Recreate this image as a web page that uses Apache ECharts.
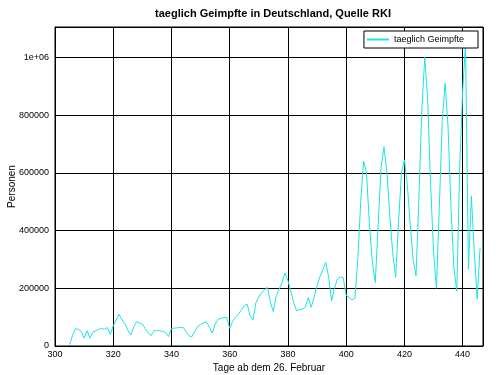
<!DOCTYPE html>
<html>
<head>
<meta charset="utf-8">
<script src="https://cdn.jsdelivr.net/npm/echarts@6/dist/echarts.min.js"></script>
<style>
html,body{margin:0;padding:0;background:#fff;}
#chart{width:500px;height:375px;}
</style>
</head>
<body>
<div id="chart"></div>
<script>
const titleText = "taeglich Geimpfte in Deutschland, Quelle RKI";
const seriesName = "taeglich Geimpfte";
const xAxisName = "Tage ab dem 26. Februar";
const yAxisName = "Personen";
const startDay = 305;
const vaccinated = [
  5000, 35000, 60000, 58000, 50000, 27000, 53000, 27000, 48000, 53000,
  58000, 60000, 58000, 64000, 40000, 70000, 90000, 110000, 90000, 78000,
  55000, 38000, 65000, 84000, 80000, 76000, 60000, 45000, 36000, 53000,
  53000, 53000, 50000, 47000, 33000, 60000, 62000, 63000, 64000, 65000,
  50000, 35000, 32000, 50000, 68000, 75000, 80000, 84000, 65000, 45000,
  75000, 92000, 96000, 98000, 99000, 61000, 85000, 100000, 110000, 125000,
  140000, 145000, 105000, 90000, 150000, 170000, 185000, 195000, 203000, 150000,
  119000, 175000, 197000, 220000, 253000, 226000, 190000, 150000, 122000, 126000,
  128000, 135000, 168000, 134000, 170000, 209000, 240000, 265000, 290000, 238000,
  157000, 200000, 232000, 240000, 236000, 175000, 168000, 160000, 165000, 300000,
  500000, 640000, 600000, 420000, 290000, 220000, 420000, 620000, 690000, 600000,
  450000, 320000, 238000, 430000, 600000, 645000, 560000, 420000, 300000, 243000,
  520000, 820000, 1000000, 850000, 560000, 330000, 200000, 480000, 780000, 910000,
  760000, 480000, 270000, 190000, 620000, 880000, 1045000, 266000, 520000, 330000,
  163000, 341000
];
const xTicks = [300, 320, 340, 360, 380, 400, 420, 440];
const yTicks = [0, 200000, 400000, 600000, 800000, 1000000];

const points = vaccinated.map((v, i) => [startDay + i, v]);
const font = "'Liberation Sans', Arial, sans-serif";

const chart = echarts.init(document.getElementById('chart'), null, {renderer: 'canvas'});
chart.setOption({
  animation: false,
  backgroundColor: '#fff',
  title: {
    text: titleText,
    left: 268, top: 3, textAlign: 'center',
    textStyle: {fontFamily: font, fontSize: 11, fontWeight: 'bold', color: '#000'}
  },
  legend: {
    data: [seriesName],
    right: 22, top: 31,
    padding: [4, 14, 4, 3],
    borderColor: '#000', borderWidth: 1, borderRadius: 0,
    backgroundColor: '#fff',
    icon: 'rect', itemWidth: 22, itemHeight: 2, itemGap: 5,
    itemStyle: {color: '#1ee3e3'},
    textStyle: {fontFamily: font, fontSize: 9, color: '#000'}
  },
  grid: {
    left: 55, right: 17, top: 27, bottom: 29,
    containLabel: false, outerBoundsMode: 'none',
    show: true, borderColor: '#000', borderWidth: 1
  },
  xAxis: {
    type: 'value', min: 300, max: 447, interval: 20,
    name: xAxisName, nameLocation: 'middle', nameGap: 17, nameMoveOverlap: false,
    nameTextStyle: {fontFamily: font, fontSize: 10, color: '#000'},
    axisLine: {show: true, lineStyle: {color: '#000'}},
    axisTick: {show: true, inside: true, length: 4, lineStyle: {color: '#000'}},
    axisLabel: {
      fontFamily: font, fontSize: 9, color: '#000', margin: 4,
      showMaxLabel: false,
      formatter: v => xTicks.includes(v) ? String(v) : ''
    },
    splitLine: {show: true, lineStyle: {color: '#000', width: 1}}
  },
  yAxis: {
    type: 'value', min: 0, max: 1105000, interval: 200000,
    name: yAxisName, nameLocation: 'middle', nameGap: 38, nameRotate: 90, nameMoveOverlap: false,
    nameTextStyle: {fontFamily: font, fontSize: 10, color: '#000'},
    axisLine: {show: true, lineStyle: {color: '#000'}},
    axisTick: {show: true, inside: true, length: 4, lineStyle: {color: '#000'}},
    axisLabel: {
      fontFamily: font, fontSize: 9, color: '#000', margin: 6,
      showMaxLabel: false,
      formatter: v => yTicks.includes(v) ? (v === 1000000 ? '1e+06' : String(v)) : ''
    },
    splitLine: {show: true, lineStyle: {color: '#000', width: 1}}
  },
  series: [{
    name: seriesName,
    type: 'line',
    data: points,
    symbol: 'none',
    lineStyle: {color: '#1ee3e3', width: 1},
    itemStyle: {color: '#1ee3e3'}
  }]
});
</script>
</body>
</html>
